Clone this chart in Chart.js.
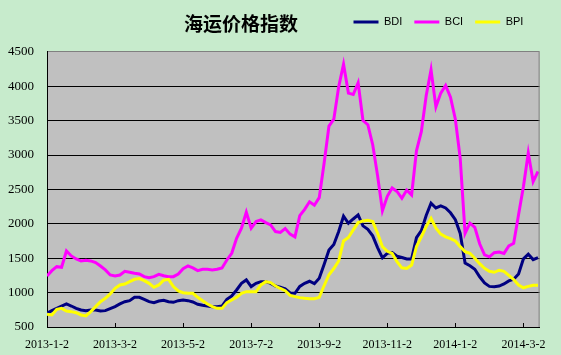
<!DOCTYPE html>
<html>
<head>
<meta charset="utf-8">
<script src="https://cdn.jsdelivr.net/npm/chart.js@4.4.1/dist/chart.umd.min.js"></script>
<style>
html,body{margin:0;padding:0;background:#C7EBCC;}
canvas{display:block;}
</style>
</head>
<body>
<canvas id="c" width="561" height="355"></canvas>
<script>
// ---- data ----
const chartTitle = '海运价格指数';
const seriesNames = ['BDI', 'BCI', 'BPI'];
const tickLabels = ['2013-1-2','2013-3-2','2013-5-2','2013-7-2','2013-9-2','2013-11-2','2014-1-2','2014-3-2'];
const SAMPLE_STEP = 3;   // trading days between samples
const LABEL_STEP = 42;   // trading days between axis labels
const X_MAX = 304;

const BDI = [699,738,771,805,835,805,771,747,738,747,
747,733,738,767,796,835,868,883,931,931,
902,868,854,878,888,868,859,883,893,883,
864,830,815,805,796,796,805,902,951,1038,
1135,1184,1087,1135,1159,1159,1135,1096,1077,1055,
995,990,1090,1135,1165,1130,1208,1410,1620,1700,
1887,2110,2008,2070,2129,1970,1920,1825,1655,1505,
1571,1583,1530,1510,1489,1489,1800,1900,2120,2300,
2230,2260,2230,2160,2060,1860,1430,1390,1340,1230,
1140,1090,1085,1095,1125,1170,1195,1270,1490,1560,
1480,1510];

const BCI = [1242,1319,1377,1368,1605,1533,1489,1460,1470,1460,
1436,1387,1329,1256,1242,1256,1310,1295,1280,1271,
1232,1218,1232,1266,1245,1232,1232,1271,1348,1387,
1358,1319,1339,1339,1329,1339,1358,1474,1571,1790,
1935,2168,1935,2032,2056,2017,1983,1887,1875,1930,
1850,1810,2120,2210,2320,2270,2380,2880,3420,3520,
3990,4320,3900,3880,4050,3500,3440,3150,2700,2190,
2400,2520,2470,2370,2490,2420,3060,3340,3860,4238,
3700,3900,4010,3840,3520,2950,1862,2010,1950,1710,
1550,1520,1580,1590,1570,1680,1717,2130,2540,3030,
2614,2760];

const BPI = [684,675,757,771,733,723,708,675,660,723,
796,868,917,980,1062,1111,1125,1159,1193,1203,
1174,1135,1077,1111,1180,1193,1087,1024,999,990,
990,931,883,835,796,771,771,854,893,931,
990,1014,1014,1014,1111,1159,1145,1096,1060,1028,
960,941,927,917,912,912,931,1100,1260,1350,
1460,1750,1800,1911,2018,2040,2050,2032,1862,1668,
1600,1570,1450,1360,1350,1400,1668,1810,1960,2080,
1935,1850,1810,1785,1750,1668,1596,1571,1500,1420,
1353,1310,1295,1325,1310,1250,1190,1110,1070,1090,
1106,1106];

const seriesColors = ['#000080', '#FF00FF', '#FFFF00'];

const toPoints = arr => arr.map((v, i) => ({x: i * SAMPLE_STEP, y: v}));
const seriesValues = [BDI, BCI, BPI];

const bgPlugin = {
  id: 'bg',
  beforeDraw(chart) {
    const {ctx, chartArea: a} = chart;
    ctx.save();
    ctx.fillStyle = '#C7EBCC';
    ctx.fillRect(0, 0, chart.width, chart.height);
    ctx.fillStyle = '#C0C0C0';
    ctx.fillRect(a.left, a.top, a.right - a.left, a.bottom - a.top);
    ctx.restore();
  },
  afterDraw(chart) {
    const {ctx, chartArea: a} = chart;
    ctx.save();
    ctx.strokeStyle = '#808080';
    ctx.lineWidth = 1;
    ctx.beginPath();
    ctx.moveTo(a.right - 0.5, a.top);
    ctx.lineTo(a.right - 0.5, a.bottom);
    ctx.stroke();
    ctx.restore();
  }
};

const placePlugin = {
  id: 'place',
  beforeLayout(chart) {
    const lg = chart.legend;
    if (lg && !lg._patched) {
      const fit = lg.fit;
      lg.fit = function () { fit.call(this); this.height = 0; };
      lg._patched = true;
    }
  },
  afterLayout(chart) {
    const lg = chart.legend;
    if (lg) {
      lg.left = 341.5; lg.right = 561; lg.width = lg.right - lg.left;
      lg.top = 4.5; lg.height = 36; lg.bottom = lg.top + lg.height;
    }
    const t = chart.titleBlock;
    if (t) {
      t.left = 0; t.right = 482; t.width = 482;
    }
  }
};

new Chart(document.getElementById('c'), {
  type: 'line',
  data: {
    datasets: seriesNames.map((name, k) => ({
      label: name,
      data: toPoints(seriesValues[k]),
      borderColor: seriesColors[k],
      backgroundColor: seriesColors[k],
      borderWidth: 3,
      pointRadius: 0,
      tension: 0,
      fill: false,
      order: 2 - k
    }))
  },
  options: {
    responsive: false,
    animation: false,
    events: [],
    layout: {padding: {left: 0, right: 18, top: 0, bottom: 0}},
    plugins: {
      title: {
        display: true,
        text: chartTitle,
        color: '#000',
        font: {family: '"Noto Sans CJK SC"', size: 19, weight: 'bold'},
        padding: {top: 12, bottom: 17}
      },
      legend: {
        display: true,
        position: 'top',
        align: 'start',
        labels: {
          usePointStyle: true,
          pointStyle: 'line',
          pointStyleWidth: 25,
          color: '#000',
          font: {family: '"Liberation Sans"', size: 11},
          padding: 12,
          sort: (a, b) => a.datasetIndex - b.datasetIndex
        }
      },
      tooltip: {enabled: false}
    },
    scales: {
      x: {
        type: 'linear',
        min: 0,
        max: X_MAX,
        grid: {drawOnChartArea: false, drawTicks: true, tickLength: -4, color: '#000'},
        border: {display: true, color: '#000', width: 1},
        ticks: {
          stepSize: LABEL_STEP,
          includeBounds: false,
          autoSkip: false,
          maxRotation: 0,
          minRotation: 0,
          padding: 15,
          color: '#000',
          font: {family: '"Liberation Serif"', size: 12},
          callback: v => {
            const k = Math.round(v / LABEL_STEP);
            return (Math.abs(v - k * LABEL_STEP) < 1e-6 && tickLabels[k]) ? tickLabels[k] : '';
          }
        },
        afterFit: a => { a.height = 28; }
      },
      y: {
        min: 500,
        max: 4500,
        grid: {
          drawTicks: false,
          lineWidth: 1,
          color: c => (c.tick && c.tick.value === 4500) ? '#808080' : '#000'
        },
        border: {display: true, color: '#000', width: 1},
        ticks: {
          stepSize: 500,
          padding: 13,
          color: '#000',
          font: {family: '"Liberation Serif"', size: 13},
          callback: v => String(v)
        },
        afterFit: a => { a.width = 47; }
      }
    }
  },
  plugins: [bgPlugin, placePlugin]
});
</script>
</body>
</html>
